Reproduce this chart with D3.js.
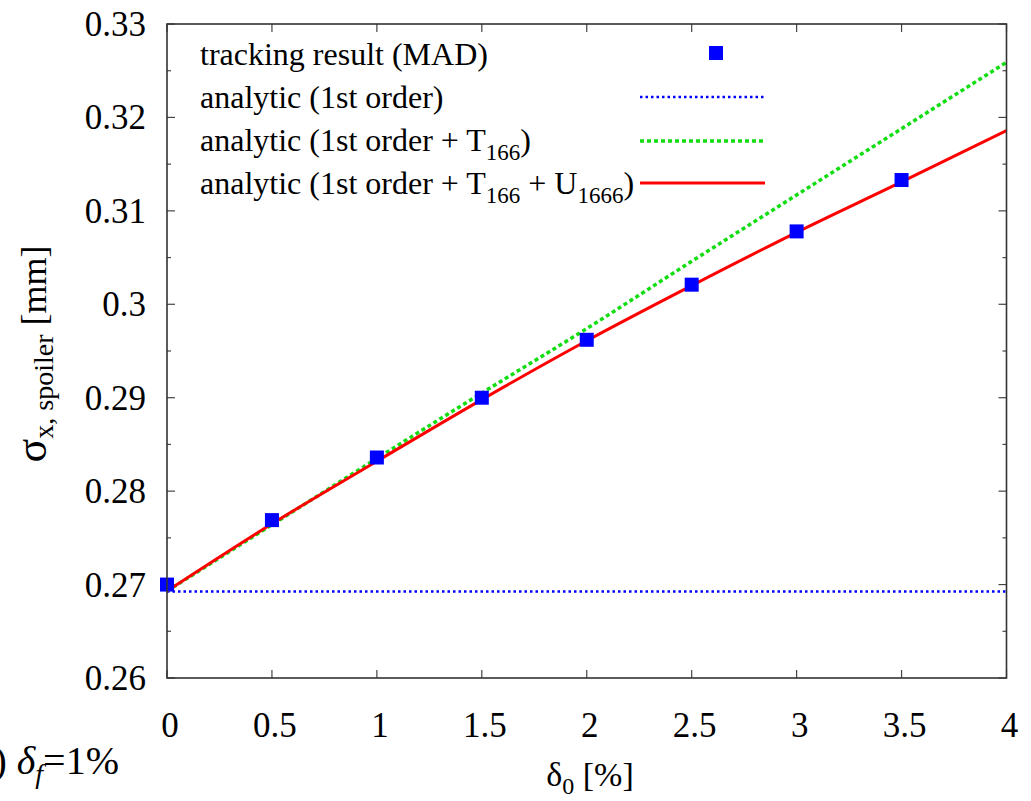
<!DOCTYPE html>
<html>
<head>
<meta charset="utf-8">
<script src="https://cdn.jsdelivr.net/npm/d3@7"></script>
<style>
  body { margin: 0; background: #fff; }
  svg { display: block; font-family: "Liberation Serif", "Times New Roman", serif; }
</style>
</head>
<body>
<div id="chart"></div>
<script>
// values
const deltas = [0, 0.5, 1, 1.5, 2, 2.5, 3, 3.5, 4];
const trackDelta = [0, 0.5, 1, 1.5, 2, 2.5, 3, 3.5];
const tracking = [0.2700, 0.2769, 0.2836, 0.2900, 0.2962, 0.3021, 0.3078, 0.3133];
const firstOrder = [0.26925, 0.26925, 0.26925, 0.26925, 0.26925, 0.26925, 0.26925, 0.26925, 0.26925];
const withT166 = [0.2693, 0.2764, 0.2835, 0.2905, 0.2974, 0.3046, 0.3117, 0.3188, 0.3259];
const withU1666 = [0.2693, 0.2765, 0.2832, 0.2898, 0.2961, 0.3020, 0.3077, 0.3131, 0.3186];
const xTicks = [0, 0.5, 1, 1.5, 2, 2.5, 3, 3.5, 4];
const yTicks = [0.26, 0.27, 0.28, 0.29, 0.3, 0.31, 0.32, 0.33];
const yMinor = [0.265, 0.275, 0.285, 0.295, 0.305, 0.315, 0.325];

const width = 1031, height = 801;
const pLeft = 167, pRight = 1006.5, pTop = 24, pBottom = 678;

const svg = d3.select("#chart").append("svg")
  .attr("width", width)
  .attr("height", height);

const x = d3.scaleLinear().domain([0, 4]).range([pLeft, pRight]);
const y = d3.scaleLinear().domain([0.26, 0.33]).range([pBottom, pTop]);

svg.append("defs").append("clipPath").attr("id", "clip")
  .append("rect")
  .attr("x", pLeft).attr("y", pTop)
  .attr("width", pRight - pLeft).attr("height", pBottom - pTop);

// ticks on all four sides
const tk = svg.append("g").attr("stroke", "#444").attr("stroke-width", 1.2);
xTicks.forEach(v => {
  tk.append("line").attr("x1", x(v)).attr("x2", x(v)).attr("y1", pBottom).attr("y2", pBottom - 8);
  tk.append("line").attr("x1", x(v)).attr("x2", x(v)).attr("y1", pTop).attr("y2", pTop + 8);
});
yTicks.forEach(v => {
  tk.append("line").attr("x1", pLeft).attr("x2", pLeft + 8).attr("y1", y(v)).attr("y2", y(v));
  tk.append("line").attr("x1", pRight).attr("x2", pRight - 8).attr("y1", y(v)).attr("y2", y(v));
});
yMinor.forEach(v => {
  tk.append("line").attr("x1", pLeft).attr("x2", pLeft + 4).attr("y1", y(v)).attr("y2", y(v));
  tk.append("line").attr("x1", pRight).attr("x2", pRight - 4).attr("y1", y(v)).attr("y2", y(v));
});

// tick labels
svg.append("g").selectAll("text")
  .data(yTicks).enter().append("text")
  .attr("x", 146)
  .attr("y", d => y(d) + 12)
  .attr("text-anchor", "end")
  .style("font-size", "35px")
  .text(d => String(+d.toFixed(2)));

svg.append("g").selectAll("text")
  .data(xTicks).enter().append("text")
  .attr("x", d => x(d) + 3)
  .attr("y", 737)
  .attr("text-anchor", "middle")
  .style("font-size", "35px")
  .text(d => d);

// lines
const plot = svg.append("g").attr("clip-path", "url(#clip)");
const line = d3.line().x(d => x(d[0])).y(d => y(d[1]));
const smooth = d3.line().curve(d3.curveMonotoneX).x(d => x(d[0])).y(d => y(d[1]));

plot.append("path")
  .datum(deltas.map((d, i) => [d, firstOrder[i]]))
  .attr("d", line)
  .attr("fill", "none")
  .attr("stroke", "#0000ff")
  .attr("stroke-width", 2.5)
  .attr("stroke-dasharray", "2.5,3");

plot.append("path")
  .datum(deltas.map((d, i) => [d, withT166[i]]))
  .attr("d", smooth)
  .attr("fill", "none")
  .attr("stroke", "#11dd11")
  .attr("stroke-width", 3.5)
  .attr("stroke-dasharray", "4,3");

plot.append("path")
  .datum(deltas.map((d, i) => [d, withU1666[i]]))
  .attr("d", smooth)
  .attr("fill", "none")
  .attr("stroke", "#ff0000")
  .attr("stroke-width", 3);

// tracking markers
svg.append("g").selectAll("rect")
  .data(trackDelta.map((d, i) => [d, tracking[i]]))
  .enter().append("rect")
  .attr("x", d => x(d[0]) - 7)
  .attr("y", d => y(d[1]) - 7)
  .attr("width", 14)
  .attr("height", 14)
  .attr("fill", "#0000ff");

// frame
svg.append("rect")
  .attr("x", pLeft).attr("y", pTop)
  .attr("width", pRight - pLeft).attr("height", pBottom - pTop)
  .attr("fill", "none")
  .attr("stroke", "#333")
  .attr("stroke-width", 1.6);

// legend
const rowY = [56, 99, 142, 185];
const lg = svg.append("g").style("font-size", "32px");
lg.append("text").attr("x", 200).attr("y", rowY[0] + 9).text("tracking result (MAD)");
lg.append("text").attr("x", 200).attr("y", rowY[1] + 9).text("analytic (1st order)");
const t3 = lg.append("text").attr("x", 200).attr("y", rowY[2] + 9);
t3.append("tspan").text("analytic (1st order + T");
t3.append("tspan").attr("dy", 9).style("font-size", "23px").text("166");
t3.append("tspan").attr("dy", -9).text(")");
const t4 = lg.append("text").attr("x", 200).attr("y", rowY[3] + 9);
t4.append("tspan").text("analytic (1st order + T");
t4.append("tspan").attr("dy", 9).style("font-size", "23px").text("166");
t4.append("tspan").attr("dy", -9).text(" + U");
t4.append("tspan").attr("dy", 9).style("font-size", "23px").text("1666");
t4.append("tspan").attr("dy", -9).text(")");

lg.append("rect").attr("x", 709).attr("y", 46).attr("width", 14).attr("height", 14).attr("fill", "#0000ff");
lg.append("line").attr("x1", 640).attr("x2", 765).attr("y1", 97).attr("y2", 97)
  .attr("stroke", "#0000ff").attr("stroke-width", 2.5).attr("stroke-dasharray", "2.5,3");
lg.append("line").attr("x1", 640).attr("x2", 765).attr("y1", 141).attr("y2", 141)
  .attr("stroke", "#11dd11").attr("stroke-width", 3.5).attr("stroke-dasharray", "4,3");
lg.append("line").attr("x1", 640).attr("x2", 765).attr("y1", 183).attr("y2", 183)
  .attr("stroke", "#ff0000").attr("stroke-width", 3);

// axis titles
const xt = svg.append("text")
  .attr("x", 590).attr("y", 786)
  .attr("text-anchor", "middle")
  .style("font-size", "34px");
xt.append("tspan").text("δ");
xt.append("tspan").attr("dy", 8).style("font-size", "24px").text("0");
xt.append("tspan").attr("dy", -8).text(" [%]");

const yt = svg.append("text")
  .attr("transform", "translate(46,354) rotate(-90)")
  .attr("text-anchor", "middle")
  .style("font-size", "36px");
yt.append("tspan").style("font-size", "44px").text("σ");
yt.append("tspan").attr("dy", 7).style("font-size", "28px").text("x, spoiler");
yt.append("tspan").attr("dy", -7).text(" [mm]");

// fragment of the panel caption at bottom left
const cap = svg.append("text")
  .attr("x", 119).attr("y", 774)
  .attr("text-anchor", "end")
  .style("font-size", "40px");
cap.append("tspan").text("(b) ");
cap.append("tspan").style("font-style", "italic").text("δ");
cap.append("tspan").attr("dy", 9).style("font-style", "italic").style("font-size", "28px").text("f");
cap.append("tspan").attr("dy", -9).text("=1%");
</script>
</body>
</html>
